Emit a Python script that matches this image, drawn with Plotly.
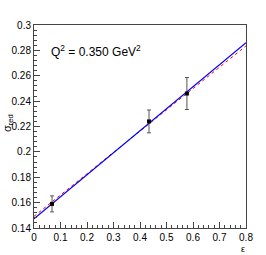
import plotly.graph_objects as go

eps = [0.068, 0.434, 0.577]
sigma = [0.159, 0.224, 0.246]
sigma_err = [0.0063, 0.0090, 0.0126]

fit_x = [0.0, 0.8]
fit_blue = [0.1473, 0.2860]
fit_red = [0.1492, 0.2835]

fig = go.Figure()
fig.add_trace(go.Scatter(x=fit_x, y=fit_red, mode="lines",
                         line=dict(color="red", width=1, dash="dot"), showlegend=False))
fig.add_trace(go.Scatter(x=fit_x, y=fit_blue, mode="lines",
                         line=dict(color="blue", width=1.2), showlegend=False))
fig.add_trace(go.Scatter(x=eps, y=sigma, mode="markers",
                         marker=dict(symbol="square", size=4, color="black"),
                         error_y=dict(type="data", array=sigma_err, color="#555555",
                                      thickness=1, width=2),
                         showlegend=False))

font = dict(family="Liberation Sans, Arial, sans-serif", size=10, color="black")
fig.update_layout(
    width=266, height=255,
    margin=dict(l=34, r=20, t=25, b=27),
    paper_bgcolor="white", plot_bgcolor="white",
    font=font,
    xaxis=dict(range=[0, 0.8], dtick=0.1, tick0=0, ticks="inside", ticklen=6,
               tickcolor="#444", showline=True, linecolor="#444", linewidth=1, mirror=True,
               showgrid=False, zeroline=False, tickfont=font, automargin=False,
               minor=dict(dtick=0.02, ticks="inside", ticklen=3, tickcolor="#444", showgrid=False)),
    yaxis=dict(range=[0.14, 0.3], dtick=0.02, tick0=0.14, ticks="inside", ticklen=6,
               tickcolor="#444", showline=True, linecolor="#444", linewidth=1, mirror=True,
               showgrid=False, zeroline=False, tickfont=font, automargin=False,
               minor=dict(dtick=0.004, ticks="inside", ticklen=3, tickcolor="#444", showgrid=False)),
    annotations=[
        dict(text="Q<sup>2</sup> = 0.350 GeV<sup>2</sup>", xref="paper", yref="paper",
             x=0.07, y=0.87, xanchor="left", yanchor="middle", showarrow=False,
             font=dict(family="Liberation Sans, Arial, sans-serif", size=12, color="black")),
        dict(text="σ<sub>red</sub>", xref="paper", yref="paper", x=0.0, xshift=-17, y=0.517,
             xanchor="right", yanchor="middle", textangle=-90, showarrow=False,
             font=dict(family="Liberation Sans, Arial, sans-serif", size=11, color="black")),
        dict(text="ε", xref="paper", yref="paper", x=0.986, y=-0.105,
             xanchor="center", yanchor="middle", showarrow=False,
             font=dict(family="Liberation Sans, Arial, sans-serif", size=9, color="black")),
    ],
)
fig.write_html("out.html", config={"displayModeBar": False},
               post_script="document.body.style.margin='0';")
